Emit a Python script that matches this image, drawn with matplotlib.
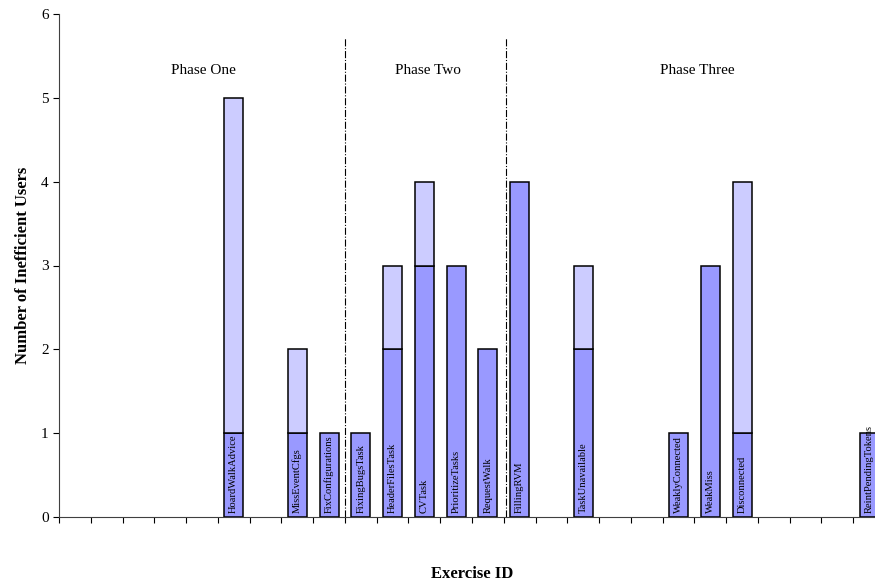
import numpy as np
import matplotlib.pyplot as plt

plt.rcParams['font.family'] = ['Liberation Serif', 'DejaVu Serif']

# one slot per exercise on the x axis, blanks are unused slots
exercises = ["", "", "", "", "", "HoardWalkAdvice", "", "MissEventCfgs",
             "FixConfigurations", "FixingBugsTask", "HeaderFilesTask", "CVTask",
             "PrioritizeTasks", "RequestWalk", "FillingRVM", "", "TaskUnavailable",
             "", "", "WeaklyConnected", "WeakMiss", "Disconnected", "", "", "",
             "ReintPendingTokens"]
lower = [0, 0, 0, 0, 0, 1, 0, 1, 1, 1, 2, 3, 3, 2, 4, 0, 2, 0, 0, 1, 3, 1, 0, 0, 0, 1]
upper = [0, 0, 0, 0, 0, 4, 0, 1, 0, 0, 1, 1, 0, 0, 0, 0, 1, 0, 0, 0, 0, 3, 0, 0, 0, 0]

phases = ["Phase One", "Phase Two", "Phase Three"]
phase_label_x = [4.55, 11.6, 20.1]
phase_breaks = [9.0, 14.07]

lower = np.array(lower)
upper = np.array(upper)
n = len(exercises)
pos = np.arange(n) + 0.5

fig = plt.figure(figsize=(8.75, 5.84), dpi=100)
ax = fig.add_axes([59/875, 67/584, 826/875, 503/584])

dark = '#9999ff'
light = '#ccccff'
has = np.array([e != "" for e in exercises])
top = has & (upper > 0)
ax.bar(pos[has], lower[has], width=0.6, color=dark, edgecolor='black', linewidth=1.1)
ax.bar(pos[top], upper[top], bottom=lower[top],
       width=0.6, color=light, edgecolor='black', linewidth=1.1)

for x, name in zip(pos, exercises):
    if name:
        ax.text(x, 0.05, name, rotation=90, ha='center', va='bottom', fontsize=7.6)

for xb in phase_breaks:
    ax.plot([xb, xb], [0, 5.72], color='black', linestyle='-.', linewidth=0.8)

for name, x in zip(phases, phase_label_x):
    ax.text(x, 5.33, name, ha='center', va='center', fontsize=11)

ax.set_xlim(0, n)
ax.set_ylim(0, 6)
ax.set_xticks(np.arange(n + 1))
ax.set_xticklabels([])
ax.set_yticks(range(7))
ax.tick_params(axis='y', labelsize=11, direction='out', length=4)
ax.tick_params(axis='x', direction='out', length=4)
for s in ['top', 'right']:
    ax.spines[s].set_visible(False)
ax.spines['left'].set_color('#404040')
ax.spines['bottom'].set_color('#404040')

ax.set_xlabel('Exercise ID', fontsize=12, fontweight='bold', labelpad=28)
ax.set_ylabel('Number of Inefficient Users', fontsize=12, fontweight='bold', labelpad=7)

fig.savefig('out.png', dpi=100)
